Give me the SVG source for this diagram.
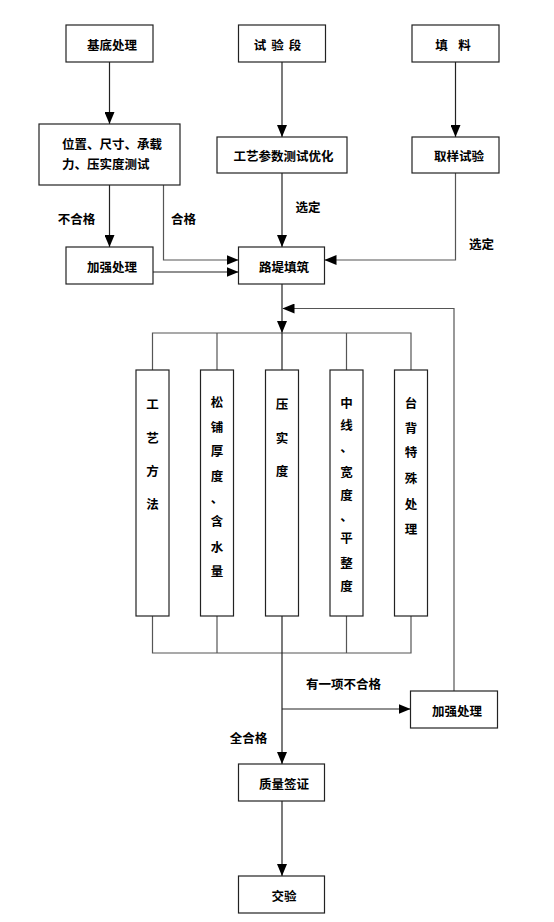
<svg xmlns="http://www.w3.org/2000/svg" width="554" height="922" viewBox="0 0 554 922">
<style>
.box{fill:#fff;stroke:#222;stroke-width:1.2}
.ln{fill:none;stroke:#222;stroke-width:1.2}
.gl{fill:none;stroke:#555;stroke-width:1.2}
text{font-family:"Noto Sans CJK SC","Noto Sans CJK JP",sans-serif;font-size:12.5px;font-weight:bold;fill:#000}
.c{text-anchor:middle;dominant-baseline:central}
</style>
<defs>
<marker id="ah" markerUnits="userSpaceOnUse" markerWidth="12" markerHeight="10" refX="12" refY="5" orient="auto">
<path d="M0,0 L12,5 L0,10 z" fill="#000"/>
</marker>
</defs>
<rect width="554" height="922" fill="#fff"/>
<g id="connectors">
<path class="ln" d="M109.5,62 V124" marker-end="url(#ah)"/>
<path class="ln" d="M282,62 V137" marker-end="url(#ah)"/>
<path class="ln" d="M455.5,62 V137" marker-end="url(#ah)"/>
<path class="ln" d="M109.5,185 V247" marker-end="url(#ah)"/>
<path class="gl" d="M163.5,185 V260 H238.5" marker-end="url(#ah)"/>
<path class="ln" d="M153,272 H238.5" marker-end="url(#ah)"/>
<path class="ln" d="M282,173 V247" marker-end="url(#ah)"/>
<path class="gl" d="M455.5,173 V260 H324.5" marker-end="url(#ah)"/>
<path class="ln" d="M282,284 V333" marker-end="url(#ah)"/>
<path class="gl" d="M454,691 V308.5 H282.5" marker-end="url(#ah)"/>
<path class="gl" d="M152.5,370 V333 H411 V370 M217,333 V370 M346.5,333 V370"/>
<path class="ln" d="M282,333 V370"/>
<path class="gl" d="M152.5,616 V653 H411 V616 M217,616 V653 M346.5,616 V653"/>
<path class="ln" d="M282,616 V764" marker-end="url(#ah)"/>
<path class="ln" d="M282,709 H410.5" marker-end="url(#ah)"/>
<path class="ln" d="M282,801 V876" marker-end="url(#ah)"/>
<text class="c" x="76.5" y="218">不合格</text>
<text class="c" x="183.5" y="218">合格</text>
<text class="c" x="308" y="206">选定</text>
<text class="c" x="481.5" y="243">选定</text>
<text class="c" x="343.5" y="683">有一项不合格</text>
<text class="c" x="248.5" y="737">全合格</text>
</g>
<g id="n1"><rect class="box" x="66" y="25" width="87" height="37"/><text class="c" x="112" y="44">基底处理</text></g>
<g id="n2"><rect class="box" x="238.5" y="25" width="87" height="37"/><text class="c" x="280" y="44" letter-spacing="5">试验段</text></g>
<g id="n3"><rect class="box" x="412" y="25" width="87" height="37"/><text class="c" y="44"><tspan x="441.5">填</tspan><tspan x="464.5">料</tspan></text></g>
<g id="n4"><rect class="box" x="39" y="124" width="141" height="61"/><text x="62" y="148.5">位置、尺寸、承载</text><text x="62" y="168.5">力、压实度测试</text></g>
<g id="n5"><rect class="box" x="217" y="137" width="130" height="36"/><text class="c" x="283.5" y="155">工艺参数测试优化</text></g>
<g id="n6"><rect class="box" x="412" y="137" width="87" height="36"/><text class="c" x="459" y="155">取样试验</text></g>
<g id="n7"><rect class="box" x="66" y="247" width="87" height="37"/><text class="c" x="112" y="266">加强处理</text></g>
<g id="n8"><rect class="box" x="238.5" y="247" width="86" height="37"/><text class="c" x="284" y="266">路堤填筑</text></g>
<g id="c1"><rect class="box" x="136" y="370" width="33" height="246"/>
<text class="c"><tspan x="152.5" y="403">工</tspan><tspan x="152.5" y="437">艺</tspan><tspan x="152.5" y="470">方</tspan><tspan x="152.5" y="503">法</tspan></text></g>
<g id="c2"><rect class="box" x="200.5" y="370" width="33" height="246"/>
<text class="c"><tspan x="217" y="401">松</tspan><tspan x="217" y="426">铺</tspan><tspan x="217" y="450">厚</tspan><tspan x="217" y="475">度</tspan><tspan x="217" y="497">、</tspan><tspan x="217" y="520">含</tspan><tspan x="217" y="546">水</tspan><tspan x="217" y="570">量</tspan></text></g>
<g id="c3"><rect class="box" x="265.5" y="370" width="33" height="246"/>
<text class="c"><tspan x="282" y="403">压</tspan><tspan x="282" y="437">实</tspan><tspan x="282" y="470">度</tspan></text></g>
<g id="c4"><rect class="box" x="330" y="370" width="33" height="246"/>
<text class="c"><tspan x="346.5" y="402">中</tspan><tspan x="346.5" y="424">线</tspan><tspan x="346.5" y="446">、</tspan><tspan x="346.5" y="471">宽</tspan><tspan x="346.5" y="494">度</tspan><tspan x="346.5" y="515">、</tspan><tspan x="346.5" y="537">平</tspan><tspan x="346.5" y="562">整</tspan><tspan x="346.5" y="585">度</tspan></text></g>
<g id="c5"><rect class="box" x="394.5" y="370" width="33" height="246"/>
<text class="c"><tspan x="411" y="402">台</tspan><tspan x="411" y="427">背</tspan><tspan x="411" y="451">特</tspan><tspan x="411" y="477">殊</tspan><tspan x="411" y="503">处</tspan><tspan x="411" y="528">理</tspan></text></g>
<g id="n9"><rect class="box" x="410.5" y="691" width="87" height="37"/><text class="c" x="457" y="710">加强处理</text></g>
<g id="n10"><rect class="box" x="238.5" y="764" width="86" height="37"/><text class="c" x="284" y="783">质量签证</text></g>
<g id="n11"><rect class="box" x="238.5" y="876" width="86" height="37"/><text class="c" x="284" y="895">交验</text></g>
</svg>
